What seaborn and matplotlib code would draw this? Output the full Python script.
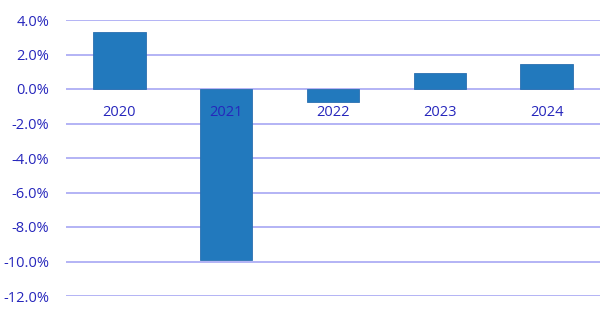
import matplotlib
matplotlib.use("Agg")
import matplotlib.pyplot as plt
import seaborn as sns
import pandas as pd
from matplotlib.ticker import FuncFormatter

years = ["2020", "2021", "2022", "2023", "2024"]
values = [3.3, -9.9, -0.75, 0.9, 1.45]

sns.set_theme(style="white")
plt.rcParams['font.family'] = ['Open Sans', 'DejaVu Sans']

df = pd.DataFrame({"year": years, "value": values})

fig = plt.figure(figsize=(6, 3.16), dpi=100)
ax = fig.add_axes([66/600, 1 - 296/316, 534/600, 276/316])

sns.barplot(data=df, x="year", y="value", color="#2279BD", width=0.49,
            saturation=1, edgecolor="#2a6fb0", linewidth=0.6, ax=ax, zorder=3)

label_color = "#2626bc"
grid_color = "#aeaef5"
ax.set_ylim(-12, 4)
ax.set_xlim(-0.5, 4.5)
ax.set_yticks([4, 2, 0, -2, -4, -6, -8, -10, -12])
ax.yaxis.set_major_formatter(FuncFormatter(lambda v, p: f"{v:.1f}%"))
ax.grid(axis="y", color=grid_color, linewidth=1.3, zorder=0)
ax.set_axisbelow(True)
for s in ax.spines.values():
    s.set_visible(False)
ax.spines['bottom'].set_position(('data', 0))
ax.tick_params(axis="y", length=0, pad=12, labelsize=10.5, labelcolor=label_color)
ax.tick_params(axis="x", length=0, pad=11.5, labelsize=10.5, labelcolor=label_color)
ax.set_xlabel("")
ax.set_ylabel("")
ax.xaxis.set_zorder(5)

fig.savefig("out.png", dpi=100)
